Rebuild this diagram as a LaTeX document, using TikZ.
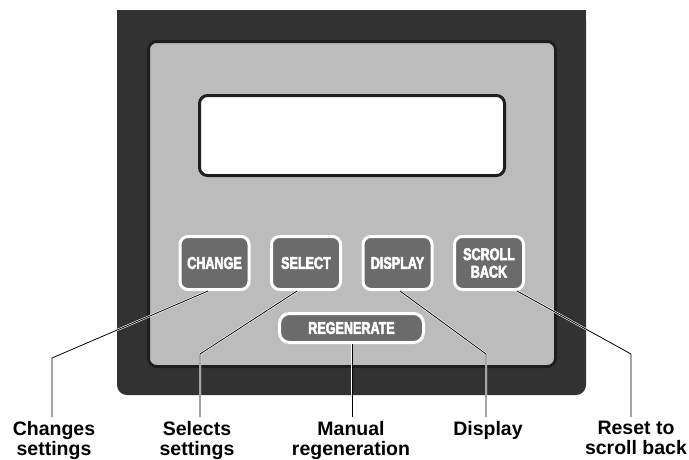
\documentclass[tikz,border=0pt]{standalone}
\usepackage{fontspec}
\setmainfont{Liberation Sans}
\newfontfamily\keyfont{Liberation Sans}[UprightFont={* Bold},FakeStretch=0.74,FakeBold=3]
\usetikzlibrary{calc}
\definecolor{housing}{HTML}{323232}
\definecolor{bezel}{HTML}{1E1E1E}
\definecolor{facegray}{HTML}{BCBCBC}
\definecolor{keygray}{HTML}{6B6B6B}
\begin{document}
\begin{tikzpicture}[x=1pt,y=-1pt,
  keybox/.style={draw=white,line width=3pt,fill=keygray,rounded corners=8pt,
    minimum width=69pt,minimum height=53pt,inner sep=0pt,align=center,
    text=white,font=\keyfont\fontsize{17}{17.5}\selectfont},
  caption/.style={anchor=north,align=center,inner sep=0pt,outer sep=0pt,
    text=black,font=\bfseries\fontsize{19.5}{20}\selectfont},
  halo/.style={white,line width=2pt},
  leader/.style={black,line width=0.8pt}]
\useasboundingbox (0,0) rectangle (689,459);
% housing: square top, rounded lower corners
\fill[housing,rounded corners=10pt] (117,10) rectangle (586,395);
\fill[housing] (117,10) rectangle (586,60);
% front plate
\draw[bezel,line width=3pt,fill=facegray,rounded corners=8pt] (148.5,41.5) rectangle (555.5,366.5);
% LCD window
\draw[bezel,line width=3pt,fill=white,rounded corners=8pt] (199.5,95.5) rectangle (504.5,175.5);
% keys
\node[keybox] (change) at (214.5,263) {CHANGE};
\node[keybox] (select) at (306,263) {SELECT};
\node[keybox] (display) at (397.5,263) {DISPLAY};
\node[keybox] (scroll) at (489,263) {SCROLL\\BACK};
\node[keybox,minimum width=144pt,minimum height=29pt,rounded corners=10pt] (regen) at (351.5,328) {REGENERATE};
% captions
\node[caption] (chg) at (54,421) {Changes\\settings};
\node[caption] (sel) at (197,421) {Selects\\settings};
\node[caption] (man) at (351,421) {Manual\\regeneration};
\node[caption] (dsp) at (488,421) {Display};
\node[caption] (rst) at (636,421) {Reset to\\scroll back};
% leader bends and ends
\coordinate (e1) at (52,358);
\coordinate (e2) at (200,354);
\coordinate (e3) at (486,354);
\coordinate (e4) at (631,354);
\coordinate (r0) at ($(regen.south)+(0.5,0)$);
\coordinate (gap) at (0,-4);
% leaders, each with a white halo
\foreach \st in {halo,leader}{
  \draw[\st] ($(change.south)+(-6.5,0)$) -- (e1) -- ($(e1 |- chg.north)+(gap)$);
  \draw[\st] ($(select.south)+(-9,0)$) -- (e2) -- ($(e2 |- sel.north)+(gap)$);
  \draw[\st] ($(display.south)+(2.5,0)$) -- (e3) -- ($(e3 |- dsp.north)+(gap)$);
  \draw[\st] ($(scroll.south)+(28,0)$) -- (e4) -- ($(e4 |- rst.north)+(gap)$);
  \draw[\st] (r0) -- ($(r0 |- man.north)+(gap)$);
}
\end{tikzpicture}
\end{document}
